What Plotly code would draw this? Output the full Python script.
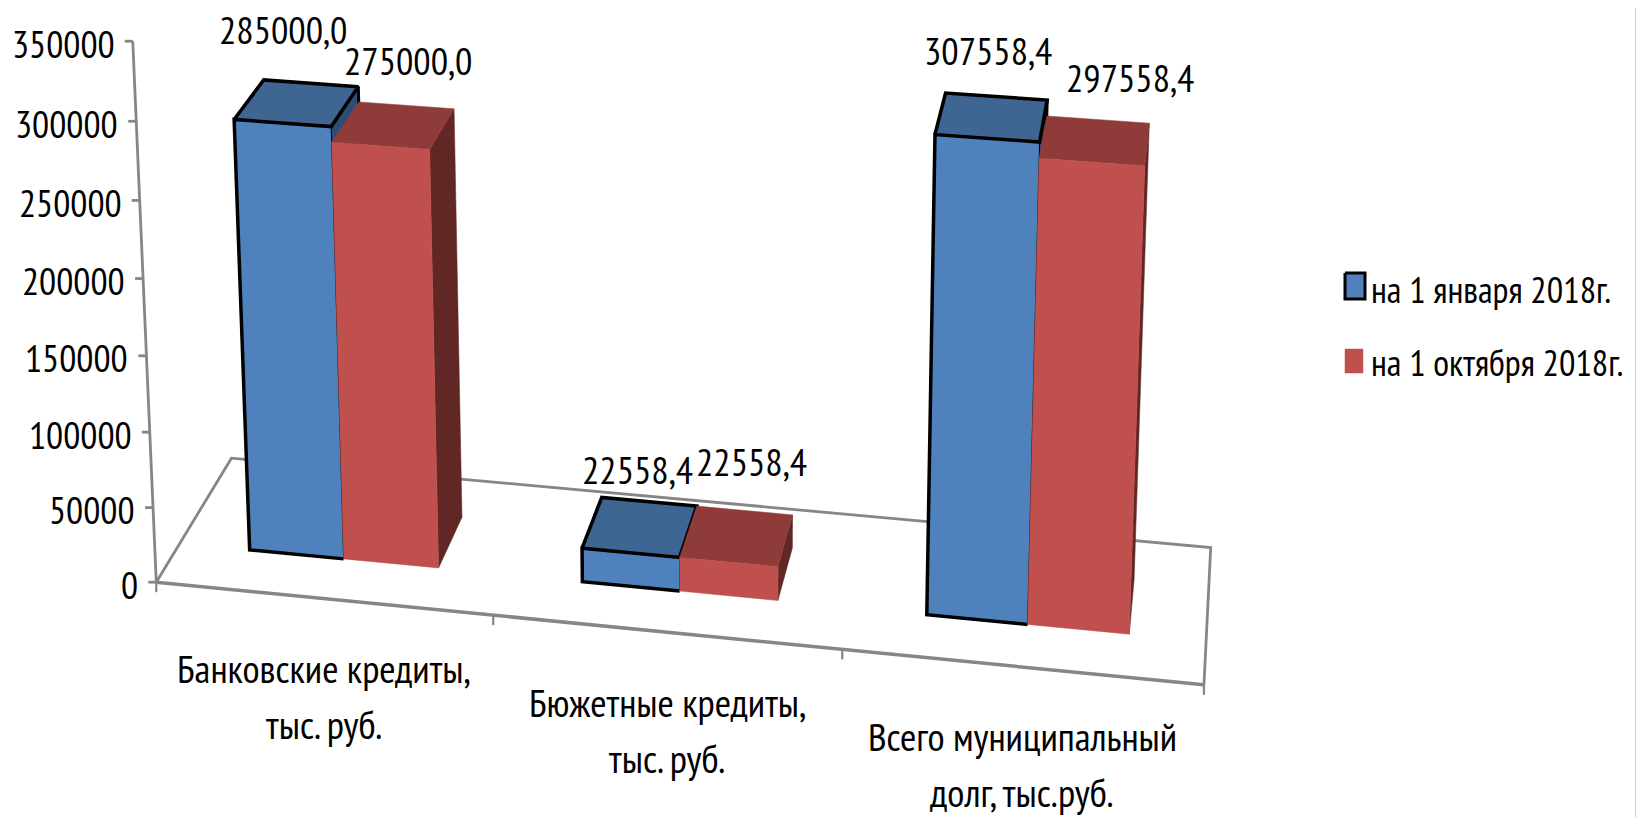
import numpy as np
import plotly.graph_objects as go

# ---- data ----
categories = [["Банковские кредиты,", "тыс. руб."],
              ["Бюжетные кредиты,", "тыс. руб."],
              ["Всего муниципальный", "долг, тыс.руб."]]
series_names = ["на 1 января 2018г.", "на 1 октября 2018г."]
values_jan = [285000.0, 22558.4, 307558.4]
values_oct = [275000.0, 22558.4, 297558.4]
y_ticks = [0, 50000, 100000, 150000, 200000, 250000, 300000, 350000]
y_max = 350000

# ---- 3D chart geometry: camera fitted to the picture ----
CAMERA = np.array([[328.47, 91.377, -28.935, 156.28],
                   [22.4149, -91.777578, -542.628104, 582.156387],
                   [-0.017239, 0.070181, -0.040742, 1.0]])
BAR_EDGES = [0.214, 0.5, 0.786]   # within a category
DEPTH = (0.3, 0.7)

def proj(X, Y, v=0.0):
    q = CAMERA @ np.array([X, Y, v / y_max, 1.0])
    return q[0] / q[2], q[1] / q[2]

FONT = "PT Sans Narrow, Sofia Sans Condensed, Roboto Condensed, Carlito, sans-serif"
TXT = 38
GRID = "#868686"
PAL = [dict(front="#4F81BD", top="#3F6592", side="#2C4D75", edge="#000000"),
       dict(front="#C0504D", top="#8F3B39", side="#612725", edge=None)]

fig = go.Figure()

def poly(points, color):
    xs, ys = zip(*points)
    fig.add_trace(go.Scatter(x=list(xs) + [xs[0]], y=list(ys) + [ys[0]], mode="lines", fill="toself",
                             fillcolor=color, line=dict(color=color, width=0.5),
                             showlegend=False, hoverinfo="skip"))

def line(points, color=GRID, width=2.5):
    xs, ys = zip(*points)
    fig.add_trace(go.Scatter(x=list(xs), y=list(ys), mode="lines", line=dict(color=color, width=width),
                             showlegend=False, hoverinfo="skip"))

ncat = len(categories)
# floor
line([proj(0, 0), proj(0, 1), proj(ncat, 1), proj(ncat, 0)], width=2.8)
line([proj(0, 0), proj(ncat, 0)], width=3.5)
# value axis
line([proj(0, 0, 0), proj(0, 0, y_max)], width=2.8)
for t in y_ticks:
    x, y = proj(0, 0, t)
    line([(x - 8, y), (x, y)], width=2.8)
# category ticks
for k in range(ncat + 1):
    x, y = proj(k, 0)
    line([(x, y), (x, y + 10)], width=2.2)

# bars
annotations = []
label_offsets = [[(-28, -53), (-12, -32), (-8, -46)], [(2, -44), (7, -48), (32, -42)]]
for s, vals in enumerate([values_jan, values_oct]):
    c = PAL[s]
    for k, v in enumerate(vals):
        x0, x1 = k + BAR_EDGES[s], k + BAR_EDGES[s + 1]
        y0, y1 = DEPTH
        poly([proj(x1, y0, 0), proj(x1, y1, 0), proj(x1, y1, v), proj(x1, y0, v)], c["side"])
        poly([proj(x0, y0, v), proj(x1, y0, v), proj(x1, y1, v), proj(x0, y1, v)], c["top"])
        poly([proj(x0, y0, 0), proj(x1, y0, 0), proj(x1, y0, v), proj(x0, y0, v)], c["front"])
        if c["edge"]:
            e = c["edge"]
            line([proj(x1, y0, 0), proj(x0, y0, 0), proj(x0, y0, v), proj(x1, y0, v),
                  proj(x1, y1, v), proj(x0, y1, v), proj(x0, y0, v)], color=e, width=3.5)
            line([proj(x1, y1, v), proj(x1, y1, 0)], color=e, width=3)
            line([proj(x1, y0, v), proj(x1, y0, 0)], color=e, width=1)
        bx, by = proj((x0 + x1) / 2, y1, v)
        dx, dy = label_offsets[s][k]
        annotations.append(dict(x=bx + dx, y=by + dy, text=f"{v:.1f}".replace(".", ","),
                                xanchor="center", yanchor="middle", borderpad=0, height=40,
                                font=dict(size=38.5, family=FONT, color="#000000")))

# value tick labels
for t in y_ticks:
    x, y = proj(0, 0, t)
    annotations.append(dict(x=x - 16, y=y + 2, text=str(t), xanchor="right", yanchor="middle"))

# category labels
for k, lines in enumerate(categories):
    x, y = proj(k + 0.5, 0)
    for i, txt in enumerate(lines):
        annotations.append(dict(x=x + 1, y=y + 70 + 56 * i, text=txt, xanchor="center", yanchor="middle",
                                font=dict(size=39.5, family=FONT, color="#000000")))

# legend
legend_x = 1345
legend_rows = [(286, 26, 20), (361, 24, 18)]
legend_text_y = [289, 362]
for (yc, h, w), name, c, ty in zip(legend_rows, series_names, PAL, legend_text_y):
    pts = [(legend_x, yc - h / 2), (legend_x + w, yc - h / 2), (legend_x + w, yc + h / 2), (legend_x, yc + h / 2)]
    poly(pts, c["front"])
    if c["edge"]:
        line(pts + [pts[0]], color=c["edge"], width=3)
    annotations.append(dict(x=1369, y=ty, text=name, xanchor="left", yanchor="middle",
                            font=dict(size=36.5, family=FONT, color="#000000")))

# right frame line
line([(1637, 8), (1637, 817)], color="#999999", width=3)

for a in annotations:
    a.update(xref="x", yref="y", showarrow=False)
    a.setdefault("font", dict(size=TXT, family=FONT, color="#000000"))

# the page has an 8px body margin, so the axes cover page pixels 8..1640 and 8..817
fig.update_layout(width=1632, height=809, margin=dict(l=0, r=0, t=0, b=0),
                  paper_bgcolor="#FFFFFF", plot_bgcolor="#FFFFFF", showlegend=False,
                  annotations=annotations,
                  xaxis=dict(range=[8, 1640], visible=False, fixedrange=True),
                  yaxis=dict(range=[817, 8], visible=False, fixedrange=True))
fig.write_html("out.html")
